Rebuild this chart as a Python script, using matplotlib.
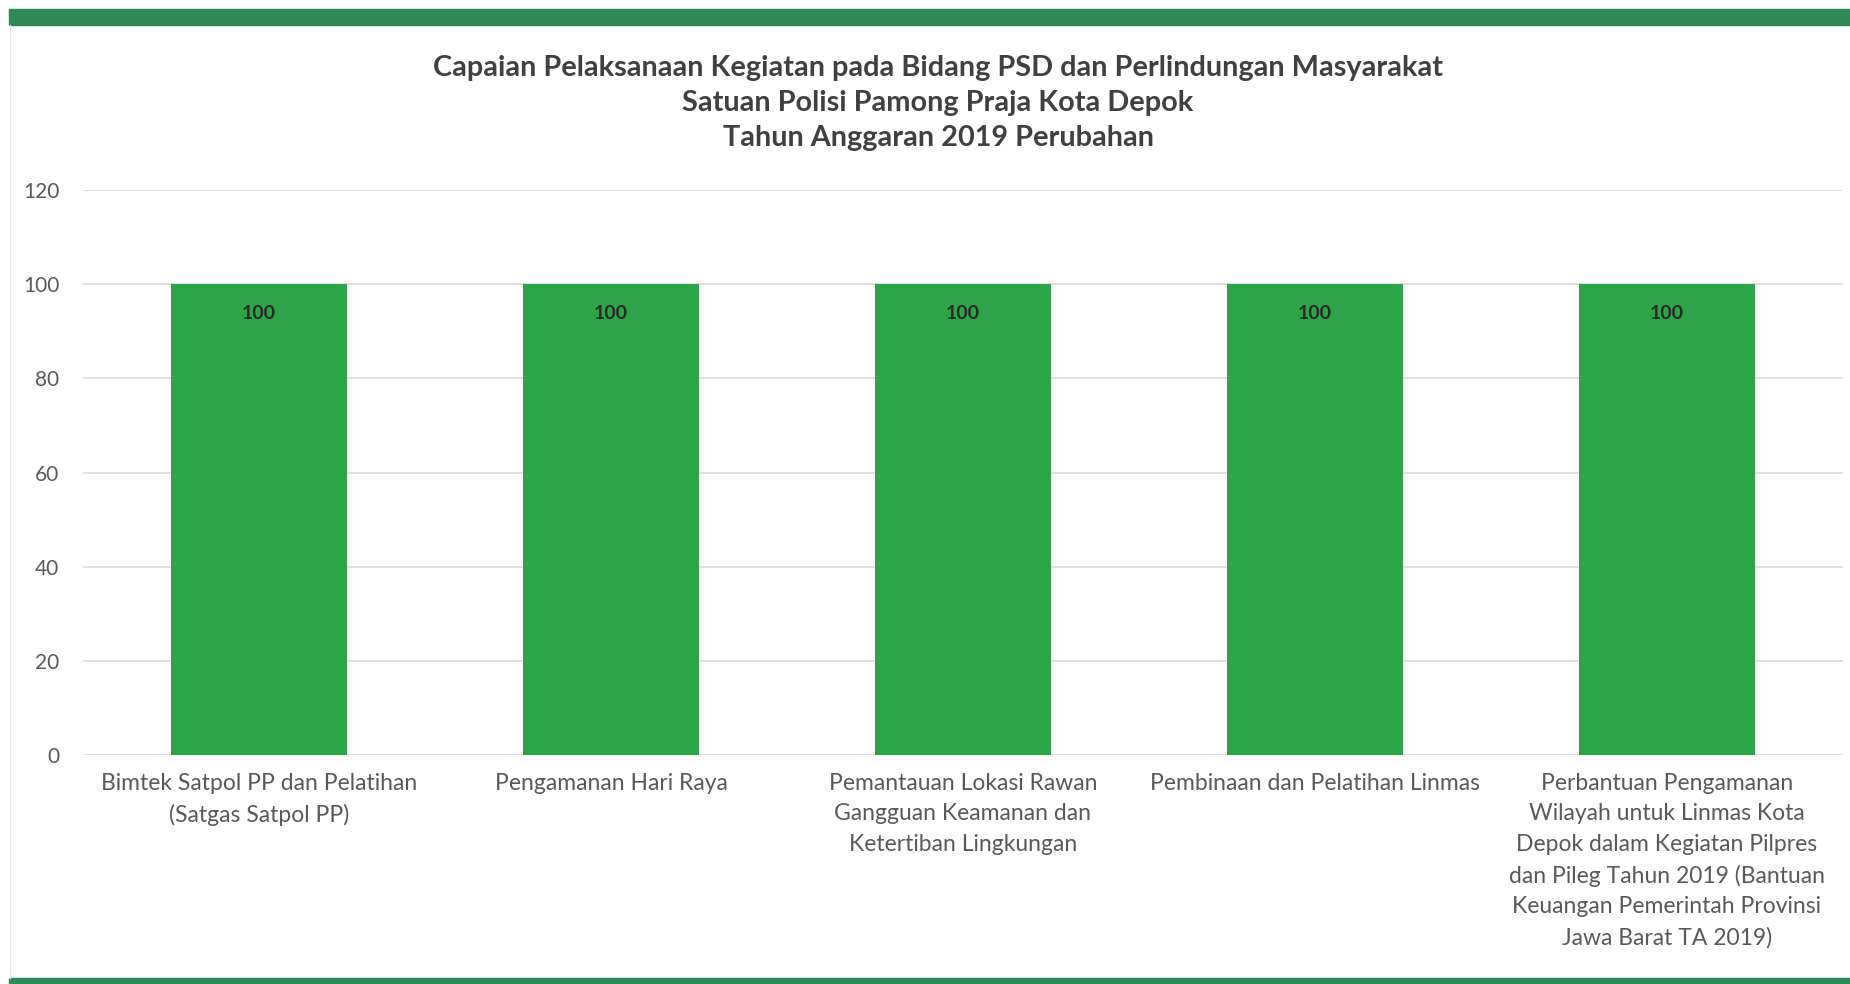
import matplotlib
matplotlib.use("Agg")
import matplotlib.pyplot as plt
from matplotlib.patches import Rectangle

plt.rcParams['font.family'] = ['Lato', 'DejaVu Sans']

# data
categories = [
    "Bimtek Satpol PP dan Pelatihan\n(Satgas Satpol PP)",
    "Pengamanan Hari Raya",
    "Pemantauan Lokasi Rawan\nGangguan Keamanan dan\nKetertiban Lingkungan",
    "Pembinaan dan Pelatihan Linmas",
    "Perbantuan Pengamanan\nWilayah untuk Linmas Kota\nDepok dalam Kegiatan Pilpres\ndan Pileg Tahun 2019 (Bantuan\nKeuangan Pemerintah Provinsi\nJawa Barat TA 2019)",
]
values = [100, 100, 100, 100, 100]
yticks = [0, 20, 40, 60, 80, 100, 120]

title = ("Capaian Pelaksanaan Kegiatan pada Bidang PSD dan Perlindungan Masyarakat\n"
         "Satuan Polisi Pamong Praja Kota Depok\n"
         "Tahun Anggaran 2019 Perubahan")

bar_color = "#2DA446"
band_color = "#2E8B57"

fig = plt.figure(figsize=(18.5, 9.84), dpi=100)
W, H = 1850, 984

# green bands and light panel edge (decoration)
fig.patches.append(Rectangle((9 / W, 1 - 25 / H), 1 - 9 / W, 16 / H, transform=fig.transFigure,
                             color=band_color, zorder=0))
fig.patches.append(Rectangle((9 / W, 0), 1 - 9 / W, 6 / H, transform=fig.transFigure,
                             color=band_color, zorder=0))
fig.add_artist(plt.Line2D([9.5 / W, 9.5 / W], [6 / H, 1 - 25 / H], transform=fig.transFigure,
                          color="#e6e6e6", lw=1))

ax = fig.add_axes([83 / W, 1 - 755 / H, (1843 - 83) / W, (755 - 190) / H])
x = list(range(len(categories)))
bars = ax.bar(x, values, width=0.5, color=bar_color, zorder=2)

for xi, v in zip(x, values):
    ax.annotate(str(v), (xi, v), xytext=(0, -21), textcoords="offset points",
                ha="center", va="center", fontsize=14, fontweight="bold", color="#262626")

ax.set_xlim(-0.5, len(categories) - 0.5)
ax.set_ylim(0, 120)
ax.set_yticks(yticks)
ax.set_yticklabels([str(t) for t in yticks])
ax.set_xticks(x)
ax.set_xticklabels(categories, linespacing=1.55)
ax.tick_params(axis="y", length=0, pad=17, labelsize=15, labelcolor="#595959")
ax.tick_params(axis="x", length=0, pad=13, labelsize=16.5, labelcolor="#595959")
for lab in ax.get_xticklabels():
    lab.set_verticalalignment("top")
ax.grid(axis="y", color="#d9d9d9", lw=1.2, zorder=0)
for s in ax.spines.values():
    s.set_visible(False)

fig.text(938 / W, 1 - 103 / H, title, ha="center", va="center", fontsize=20.8,
         fontweight="bold", color="#404040", linespacing=1.43)

fig.savefig("out.png", dpi=100)
